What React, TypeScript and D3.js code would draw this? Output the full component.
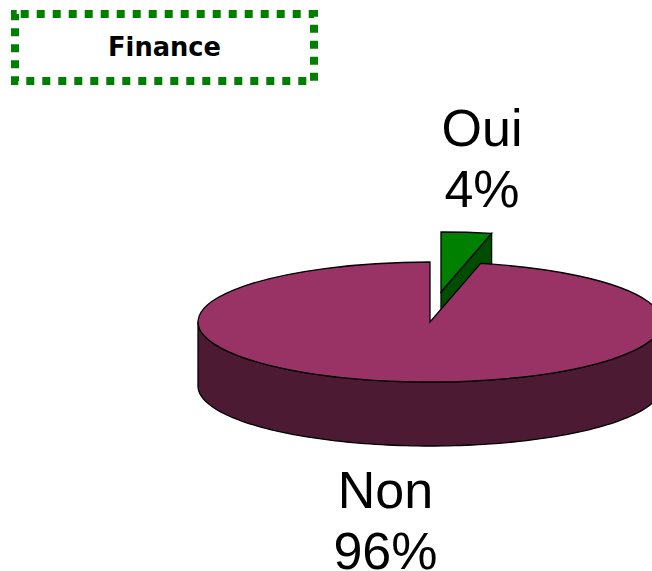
import React from 'react';
import * as d3 from 'd3';

const categories = ['Oui', 'Non'];
const shareLabels = ['4%', '96%'];
// slice sizes as drawn (the printed labels are rounded)
const shares = [3.5, 96.5];
const topColors = ['#008000', '#993366'];
const sideColors = ['#004d00', '#4d1a33'];
const title = 'Finance';

const width = 652;
const height = 571;
const cx = 430;
const cy = 322;
const rx = 232;
const ry = 60;
const depth = 64;
const explode = [[11, -30], [0, 0]];
const labelPos = [[482, 146], [385.5, 507.5]];

const pie = d3.pie<number>().sort(null).value(d => d);
const arcs = pie(shares);
const topArc = d3.arc<any>().innerRadius(0).outerRadius(rx);

// angle 0 = 12 o'clock, clockwise, squashed onto the ellipse
const project = (a: number, dy = 0): [number, number] => [rx * Math.sin(a), -ry * Math.cos(a) + dy];
const line = d3.line();

function rimWall(a0: number, a1: number) {
  const from = Math.max(a0, Math.PI / 2);
  const to = Math.min(a1, (3 * Math.PI) / 2);
  if (from >= to) return null;
  const angles = d3.range(0, 121).map(i => from + ((to - from) * i) / 120);
  const upper = angles.map(a => project(a));
  const lower = angles.map(a => project(a, depth)).reverse();
  return line([...upper, ...lower]) + 'Z';
}

function cutFace(a: number) {
  const outer = project(a);
  const outerLow = project(a, depth);
  return line([[0, 0], outer, outerLow, [0, depth]]) + 'Z';
}

export default function App() {
  return (
    <svg width={width} height={height} style={{ position: 'absolute', left: 0, top: 0 }}>
      <path
        d="M20.7,14H314V81H15V14H20.7"
        fill="none"
        stroke="#008000"
        strokeWidth={8}
        strokeDasharray="8 8"
      />
      <text
        x={164.5}
        y={56}
        textAnchor="middle"
        fontFamily="DejaVu Sans"
        fontWeight="bold"
        fontSize={25.7}
        fill="#000"
      >
        {title}
      </text>
      {arcs.map((d, i) => {
        const wall = rimWall(d.startAngle, d.endAngle);
        return (
          <g key={categories[i]} transform={`translate(${cx + explode[i][0]},${cy + explode[i][1]})`}>
            {i === 0 && (
              <path d={cutFace(d.endAngle)} fill={sideColors[i]} stroke="#000" strokeWidth={1.3} />
            )}
            {wall && <path d={wall} fill={sideColors[i]} stroke="#000" strokeWidth={1.3} />}
            <path
              d={topArc(d) as string}
              transform={`scale(1,${ry / rx})`}
              fill={topColors[i]}
              stroke="#000"
              strokeWidth={1.3}
              vectorEffect="non-scaling-stroke"
            />
          </g>
        );
      })}
      {categories.map((c, i) => (
        <text
          key={c}
          x={labelPos[i][0]}
          y={labelPos[i][1]}
          textAnchor="middle"
          fontFamily="Liberation Sans"
          fontSize={52}
          fill="#000"
        >
          <tspan x={labelPos[i][0]}>{c}</tspan>
          <tspan x={labelPos[i][0]} dy={61}>{shareLabels[i]}</tspan>
        </text>
      ))}
    </svg>
  );
}
